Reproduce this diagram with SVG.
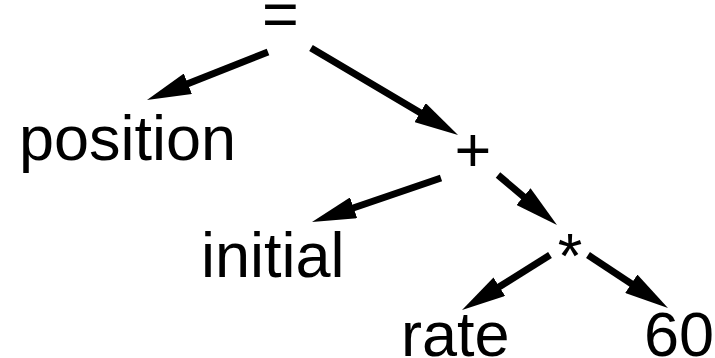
<svg xmlns="http://www.w3.org/2000/svg" width="715" height="358" viewBox="0 0 715 358">
<style>
text{font-family:"Liberation Sans",Arial,sans-serif;font-size:63px;fill:#000}
.c{text-anchor:middle}
.e{stroke:#000;stroke-width:7;fill:none;stroke-linecap:butt}
</style>
<defs>
<marker id="ah" viewBox="0 0 44 22" refX="9" refY="11" markerWidth="44" markerHeight="22" markerUnits="userSpaceOnUse" orient="auto">
<path d="M0,0 L44,11 L0,22 z" fill="#000"/>
</marker>
</defs>
<rect width="715" height="358" fill="#fff"/>
<g id="edges">
<line class="e" x1="268" y1="52" x2="179.5" y2="87.1" marker-end="url(#ah)"/>
<line class="e" x1="311" y1="48" x2="427.9" y2="117.2" marker-end="url(#ah)"/>
<line class="e" x1="441" y1="178" x2="345.1" y2="210.7" marker-end="url(#ah)"/>
<line class="e" x1="498" y1="175" x2="530.3" y2="202.4" marker-end="url(#ah)"/>
<line class="e" x1="550" y1="255" x2="491.7" y2="291.5" marker-end="url(#ah)"/>
<line class="e" x1="588" y1="255" x2="638.8" y2="288.7" marker-end="url(#ah)"/>
</g>
<g id="n_eq"><text class="c" x="280.5" y="36">=</text></g>
<g id="n_position"><text x="19" y="160">position</text></g>
<g id="n_plus"><text class="c" x="473" y="172">+</text></g>
<g id="n_initial"><text x="201" y="277">initial</text></g>
<g id="n_star"><text class="c" x="570" y="277">*</text></g>
<g id="n_rate"><text x="401" y="356">rate</text></g>
<g id="n_60"><text x="644" y="356">60</text></g>
</svg>
